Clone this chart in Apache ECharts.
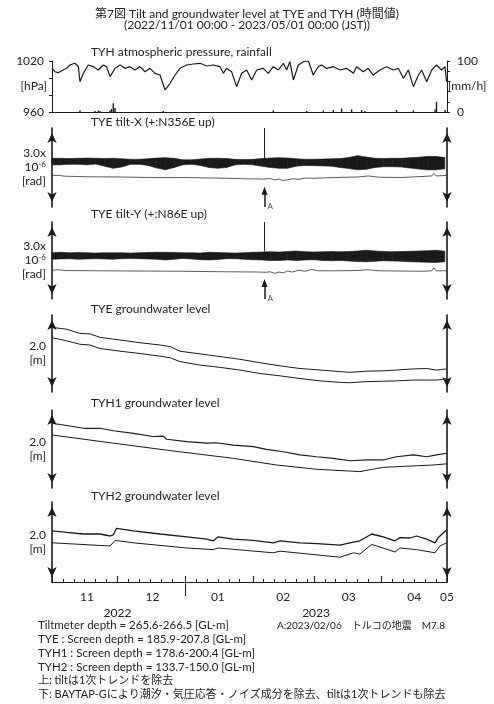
<!DOCTYPE html>
<html><head><meta charset="utf-8">
<script src="https://cdn.jsdelivr.net/npm/echarts@6/dist/echarts.min.js"></script>
<style>html,body{margin:0;padding:0;background:#fff}#c{width:494px;height:704px}</style>
</head><body><div id="c"></div>
<script>
// ---------- time axis (days since 2022/11/01 00:00 JST) ----------
const monthStart = [0, 30, 61, 92, 120, 151, 181];
const monthLabel = ['11', '12', '01', '02', '03', '04', '05'];
const monthLabelDay = [16, 46, 76, 106, 136, 166, 181];
const yearLabel = ['2022', '2023'];
const yearLabelDay = [30, 121];
const yearBoundaryDay = 61;
const eqDay = 97.4; // A: 2023/02/06

// ---------- TYH atmospheric pressure [hPa] ----------
const pressureDay = [0,1.4,2.9,4.4,6.7,8.2,10.5,12.1,12.8,14.4,16.6,19.0,21.2,23.5,25.0,26.6,28.9,31.2,33.4,35.7,38.0,40.3,42.6,44.9,47.2,49.5,51.8,54.1,56.4,58.6,61.7,64.8,67.8,70.9,73.9,77.0,78.5,80.0,82.3,84.6,86.9,89.2,91.5,93.8,96.8,99.1,101.4,103.7,106.0,107.5,109.0,110.6,112.9,115.2,117.5,119.7,122.0,123.5,125.8,128.9,132.0,135.0,138.1,139.6,142.6,144.9,147.2,150.3,153.3,156.4,158.7,161.0,163.3,165.6,167.9,169.4,171.7,174.0,176.2,178.5,180.1,180.8];
const pressureHpa = [1011.4,1007.4,1006.3,1008.6,1011.4,1015.3,1017.3,1013.3,995.7,1005.5,
1015.3,1013.3,1009.4,1015.3,1013.3,1001.6,1011.4,1015.3,1011.4,1013.3,
1009.4,1013.3,1007.4,1011.4,1005.5,1003.5,985.9,993.8,1003.5,1011.4,
1015.3,1016.5,1017.3,1014.1,1015.3,1013.3,1005.5,1011.4,1007.4,989.8,
1005.5,1009.4,997.7,1009.4,1011.4,1005.5,1013.3,1009.4,1017.3,1009.4,
1019.2,997.7,1015.3,1019.2,1020,1003.5,1013.3,1015.3,1011.4,1013.3,
1009.4,1011.4,1005.5,1013.3,1007.4,1011.4,1003.5,1009.4,1013.3,1009.4,
1011.4,999.6,1009.4,989.8,1003.5,1009.4,995.7,1009.4,1015.3,1009.4,
1013.3,995.7];

// ---------- TYH rainfall [mm/h] ----------
const rainDay = [12.8,19.7,21.2,22.0,26.6,27.3,28.1,28.9,51.0,101.4,116.7,124.3,128.9,132.7,137.3,141.9,143.4,157.9,165.6,175.5,176.2,180.1];
const rainMm  = [3,2,3,2,3,6,17,8,2,3,2,3,4,7,5,4,2,4,3,5,20,4];

// ---------- TYE tilt (x1e-6 rad, relative) ----------
const tiltDay = [0,4,8,12,16,20,24,28,32,36,40,44,48,52,56,60,64,68,72,76,80,84,88,92,96,100,104,108,112,116,120,124,128,132,136,140,144,148,152,156,160,164,168,172,176,180];
// raw (tidal band) envelope
const tiltXRawHigh = [1.85,1.85,1.84,1.85,1.86,1.85,1.84,1.85,1.83,1.81,1.81,1.83,1.86,1.87,1.85,1.79,1.79,1.82,1.85,1.85,1.84,1.81,1.80,1.81,1.84,1.86,1.87,1.86,1.83,1.81,1.81,1.82,1.83,1.84,1.88,1.95,1.90,1.85,1.84,1.85,1.85,1.87,1.89,1.92,1.92,1.88];
const tiltXRawLow  = [1.60,1.60,1.62,1.62,1.60,1.63,1.55,1.47,1.52,1.62,1.62,1.58,1.48,1.41,1.50,1.60,1.62,1.58,1.50,1.47,1.50,1.60,1.62,1.60,1.55,1.50,1.47,1.47,1.55,1.58,1.57,1.56,1.55,1.50,1.46,1.41,1.43,1.50,1.53,1.53,1.52,1.48,1.44,1.41,1.41,1.45];
const tiltYRawHigh = [1.80,1.82,1.80,1.81,1.80,1.79,1.80,1.80,1.80,1.79,1.80,1.81,1.82,1.82,1.81,1.80,1.80,1.79,1.82,1.81,1.80,1.79,1.80,1.82,1.83,1.84,1.83,1.85,1.87,1.84,1.83,1.84,1.85,1.84,1.85,1.87,1.90,1.87,1.85,1.84,1.85,1.86,1.87,1.88,1.90,1.86];
const tiltYRawLow  = [1.55,1.56,1.57,1.55,1.56,1.57,1.56,1.55,1.57,1.58,1.57,1.56,1.55,1.52,1.55,1.58,1.56,1.53,1.52,1.54,1.57,1.57,1.55,1.53,1.52,1.50,1.50,1.52,1.50,1.52,1.53,1.50,1.49,1.50,1.48,1.46,1.45,1.47,1.49,1.48,1.47,1.45,1.44,1.43,1.42,1.45];
const tiltXSpike = [1.85, 3.0];
const tiltYSpike = [1.85, 3.0];
// corrected (BAYTAP-G) lines
const tiltXCorDay = [0,3,6,15,30,45,60,75,90,97,100,102,104,106,108,110,113,116,120,130,140,145,150,160,170,174,175,176,181];
const tiltXCor    = [1.19,1.20,1.17,1.15,1.14,1.12,1.12,1.10,1.07,1.06,1.08,1.03,1.06,1.00,1.04,1.07,1.05,1.10,1.09,1.12,1.14,1.18,1.13,1.12,1.16,1.18,1.27,1.18,1.20];
const tiltYCorDay = [0,3,6,20,40,60,80,95,98,100,102,104,106,108,110,113,116,119,122,130,140,145,150,160,170,174,175,176,181];
const tiltYCor    = [1.12,1.14,1.11,1.10,1.09,1.08,1.06,1.05,1.04,1.06,1.00,1.05,1.02,1.09,1.05,1.12,1.08,1.15,1.10,1.10,1.11,1.14,1.10,1.09,1.08,1.10,1.22,1.10,1.10];

// ---------- groundwater level [m, relative] ----------
const tyeRawDay = [0,6.7,12.8,17.4,22.0,31.2,40.3,49.5,54.1,58.6,67.8,77.0,86.1,95.3,104.5,113.6,122.8,132.0,136.5,144.2,151.8,157.9,165.6,171.7,176.2,180.8];
const tyeRaw    = [1.68,1.63,1.52,1.51,1.42,1.35,1.28,1.22,1.18,1.06,0.99,0.92,0.85,0.76,0.68,0.61,0.57,0.53,0.51,0.54,0.55,0.57,0.60,0.61,0.57,0.60];
const tyeCor    = [1.41,1.33,1.24,1.22,1.13,1.06,1.00,0.93,0.89,0.79,0.70,0.64,0.57,0.48,0.42,0.35,0.29,0.25,0.24,0.27,0.28,0.29,0.31,0.31,0.31,0.34];

const tyh1RawDay = [0,8.2,14.4,22.0,28.1,37.3,46.4,51.0,52.5,61.7,70.9,75.4,83.1,92.2,98.3,106.0,113.6,121.3,128.9,136.5,144.2,151.8,157.9,165.6,171.7,176.2,180.8];
const tyh1Raw    = [1.66,1.59,1.53,1.53,1.47,1.40,1.32,1.33,1.25,1.19,1.15,1.16,1.10,1.06,0.99,0.93,0.85,0.80,0.76,0.70,0.72,0.72,0.80,0.85,0.80,0.85,0.89];
const tyh1CorDay = [0,28.1,52.5,83.1,102.9,121.3,141.1,151.8,174.7,180.8];
const tyh1Cor    = [1.36,1.15,0.97,0.76,0.59,0.48,0.42,0.53,0.59,0.62];

const tyh2RawDay = [0,6.7,14.4,22.0,26.6,28.1,29.6,37.3,49.5,61.7,70.9,73.9,76.2,83.1,92.2,101.4,104.5,113.6,121.3,132.0,136.5,141.1,146.5,151.8,157.2,159.4,164.0,167.1,171.7,175.5,177.0,180.8];
const tyh2Raw    = [1.28,1.24,1.20,1.20,1.15,1.18,1.34,1.28,1.20,1.13,1.07,1.03,1.13,1.07,1.04,0.98,1.03,0.98,0.96,0.92,0.98,1.03,1.20,1.13,1.03,1.11,1.10,1.15,1.07,0.98,1.11,1.30];
const tyh2CorDay = [0,26.6,28.9,37.3,61.7,73.9,76.2,101.4,104.5,132.0,138.1,141.1,146.5,157.2,159.4,167.1,175.5,177.8,180.8];
const tyh2Cor    = [0.98,0.90,1.04,0.98,0.85,0.81,0.85,0.73,0.77,0.62,0.73,0.70,0.94,0.75,0.85,0.81,0.73,0.90,0.98];

// ---------- texts ----------
const titleLines = ['第7図 Tilt and groundwater level at TYE and TYH (時間値)', '(2022/11/01 00:00 - 2023/05/01 00:00 (JST))'];
const panelTitles = ['TYH atmospheric pressure, rainfall', 'TYE tilt-X (+:N356E up)', 'TYE tilt-Y (+:N86E up)', 'TYE groundwater level', 'TYH1 groundwater level', 'TYH2 groundwater level'];
const footLines = ['Tiltmeter depth = 265.6-266.5 [GL-m]', 'TYE : Screen depth = 185.9-207.8 [GL-m]', 'TYH1 : Screen depth = 178.6-200.4 [GL-m]', 'TYH2 : Screen depth = 133.7-150.0 [GL-m]', '上: tiltは1次トレンドを除去', '下: BAYTAP-Gにより潮汐・気圧応答・ノイズ成分を除去、tiltは1次トレンドも除去'];
const eqNote = 'A:2023/02/06　トルコの地震　M7.8';

// ================= build =================
const FONT = 'Lato, "Noto Sans CJK JP", sans-serif';
const INK = '#1a1a1a';
const zip = (xs, ys) => xs.map((x, i) => [x, ys[i]]);

const grids = [
  { top: 61, height: 51 },
  { top: 128, height: 79 },
  { top: 222, height: 77 },
  { top: 315, height: 77 },
  { top: 410, height: 78 },
  { top: 502, height: 80 }
].map(g => Object.assign({ left: 52, right: 47 }, g));

const xAxes = grids.map((g, i) => ({
  type: 'value', gridIndex: i, min: 0, max: 181,
  axisLine: { show: i === 0, onZero: false, lineStyle: { color: INK, width: 1 } },
  axisTick: { show: false }, axisLabel: { show: false }, splitLine: { show: false }
}));

// bottom time axis: categories = day index
const nDays = monthStart[monthStart.length - 1] + 1;
const cats = Array.from({ length: nDays }, (_, i) => String(i));
const minorTickSet = new Set();
monthStart.forEach((m, k) => {
  minorTickSet.add(m);
  if (k < monthStart.length - 1) for (let d = 5; d <= 25; d += 5) minorTickSet.add(m + d);
});
const monthTickSet = new Set(monthStart);
const monthLabelMap = {}; monthLabelDay.forEach((d, k) => monthLabelMap[d] = monthLabel[k]);
const yearLabelMap = {}; yearLabelDay.forEach((d, k) => yearLabelMap[d] = yearLabel[k]);

const catBase = {
  type: 'category', gridIndex: 5, data: cats, boundaryGap: false, position: 'bottom',
  splitLine: { show: false }
};
xAxes.push(Object.assign({}, catBase, {
  axisLine: { show: true, onZero: false, lineStyle: { color: INK, width: 1 } },
  axisTick: { show: true, inside: true, length: 3, interval: (i) => minorTickSet.has(i), lineStyle: { color: INK } },
  axisLabel: { show: true, interval: (i) => i in monthLabelMap, formatter: (v, i) => monthLabelMap[i] || '', fontSize: 12, color: '#222', fontFamily: FONT, margin: 9 }
}));
xAxes.push(Object.assign({}, catBase, {
  axisLine: { show: false, onZero: false },
  axisTick: { show: true, inside: true, length: 6, interval: (i) => monthTickSet.has(i), lineStyle: { color: INK } },
  axisLabel: { show: false }
}));
xAxes.push(Object.assign({}, catBase, {
  axisLine: { show: false, onZero: false },
  axisTick: { show: true, inside: false, length: 14, interval: (i) => i === yearBoundaryDay, lineStyle: { color: INK } },
  axisLabel: { show: true, interval: (i) => i in yearLabelMap, formatter: (v, i) => yearLabelMap[i] || '', fontSize: 12, color: '#222', fontFamily: FONT, margin: 25 }
}));

const nameStyleL = { align: 'right', verticalAlign: 'middle', fontSize: 12, color: '#222', fontFamily: FONT, lineHeight: 14,
  rich: { s: { fontSize: 8, verticalAlign: 'top', lineHeight: 14, padding: [0, 0, 5, 0], fontFamily: FONT, color: '#222' } } };

function arrowAxis(gi, pos, max, name) {
  return {
    type: 'value', gridIndex: gi, position: pos, min: 0, max: max,
    axisLine: { show: true, onZero: false, symbol: ['arrow', 'arrow'], symbolSize: [7, 10], symbolOffset: [5, -5], lineStyle: { color: INK, width: 1.6 } },
    axisTick: { show: false }, axisLabel: { show: false }, splitLine: { show: false },
    name: name || '', nameLocation: 'middle', nameRotate: 0, nameGap: 6, nameMoveOverlap: false, nameTextStyle: nameStyleL
  };
}

const yAxes = [
  {
    type: 'value', gridIndex: 0, position: 'left', min: 960, max: 1020, interval: 20,
    axisLine: { show: true, lineStyle: { color: INK, width: 1 } },
    axisTick: { show: true, length: 3, lineStyle: { color: INK } },
    axisLabel: { fontSize: 12, color: '#222', fontFamily: FONT, margin: 8, formatter: v => (v === 960 || v === 1020) ? String(v) : '' },
    splitLine: { show: false },
    name: '[hPa]', nameLocation: 'middle', nameRotate: 0, nameGap: 5, nameMoveOverlap: false, nameTextStyle: nameStyleL
  },
  {
    type: 'value', gridIndex: 0, position: 'right', min: 0, max: 100, interval: 20,
    axisLine: { show: true, lineStyle: { color: INK, width: 1 } },
    axisTick: { show: true, length: 3, lineStyle: { color: INK } },
    axisLabel: { fontSize: 12, color: '#222', fontFamily: FONT, margin: 10, formatter: v => (v === 0 || v === 100) ? String(v) : '' },
    splitLine: { show: false },
    name: '[mm/h]', nameLocation: 'middle', nameRotate: 0, nameGap: 1, nameMoveOverlap: false,
    nameTextStyle: { align: 'left', verticalAlign: 'middle', fontSize: 12, color: '#222', fontFamily: FONT }
  },
  arrowAxis(1, 'left', 3.0, '3.0x\n10{s|-6}\n[rad]'), arrowAxis(1, 'right', 3.0),
  arrowAxis(2, 'left', 3.0, '3.0x\n10{s|-6}\n[rad]'), arrowAxis(2, 'right', 3.0),
  arrowAxis(3, 'left', 2.0, '2.0\n[m]'), arrowAxis(3, 'right', 2.0),
  arrowAxis(4, 'left', 2.0, '2.0\n[m]'), arrowAxis(4, 'right', 2.0),
  arrowAxis(5, 'left', 2.0, '2.0\n[m]'), arrowAxis(5, 'right', 2.0)
];

function line(gi, data, width, color, extra) {
  return Object.assign({
    type: 'line', xAxisIndex: gi, yAxisIndex: gi * 2, data: data, symbol: 'none', silent: true,
    lineStyle: { color: color || INK, width: width }, animation: false, z: 3
  }, extra || {});
}
// tidal band drawn as polygons between the read-off envelopes (through the axis scales)
function band(gi, days, low, high) {
  return {
    type: 'custom', xAxisIndex: gi, yAxisIndex: gi * 2, silent: true, animation: false, z: 2,
    data: days.map((d, i) => [d, low[i], high[i]]),
    encode: { x: 0, y: [1, 2] },
    renderItem: (params, api) => {
      const i = params.dataIndex;
      if (i >= days.length - 1) return null;
      const pts = [
        api.coord([days[i], low[i]]), api.coord([days[i], high[i]]),
        api.coord([days[i + 1], high[i + 1]]), api.coord([days[i + 1], low[i + 1]])
      ];
      return { type: 'polygon', shape: { points: pts }, style: { fill: INK, stroke: INK, lineWidth: 0.6 } };
    }
  };
}
function eqArrow(gi) {
  return {
    type: 'scatter', xAxisIndex: gi, yAxisIndex: gi * 2, silent: true, animation: false,
    data: [[eqDay, 0.12]], symbolSize: 0,
    label: { show: true, formatter: 'A', position: 'right', distance: 3, fontSize: 8, color: '#222', fontFamily: FONT, offset: [0, 3] },
    markLine: {
      silent: true, animation: false, symbol: ['none', 'triangle'], symbolSize: [6, 8],
      lineStyle: { color: INK, width: 1.5, type: 'solid' }, label: { show: false },
      data: [[{ coord: [eqDay, 0.0] }, { coord: [eqDay, 0.62] }]]
    }
  };
}

const series = [
  line(0, zip(pressureDay, pressureHpa), 1.2, INK),
  { type: 'bar', xAxisIndex: 0, yAxisIndex: 1, data: zip(rainDay, rainMm), barWidth: 1.4, itemStyle: { color: INK }, silent: true, animation: false },
  band(1, tiltDay, tiltXRawLow, tiltXRawHigh),
  line(1, [[eqDay, tiltXSpike[0]], [eqDay, tiltXSpike[1]]], 1, INK),
  line(1, zip(tiltXCorDay, tiltXCor), 0.8, '#333'),
  eqArrow(1),
  band(2, tiltDay, tiltYRawLow, tiltYRawHigh),
  line(2, [[eqDay, tiltYSpike[0]], [eqDay, tiltYSpike[1]]], 1, INK),
  line(2, zip(tiltYCorDay, tiltYCor), 0.8, '#333'),
  eqArrow(2),
  line(3, zip(tyeRawDay, tyeRaw), 1, INK),
  line(3, zip(tyeRawDay, tyeCor), 1, INK),
  line(4, zip(tyh1RawDay, tyh1Raw), 1.1, INK),
  line(4, zip(tyh1CorDay, tyh1Cor), 1, INK),
  line(5, zip(tyh2RawDay, tyh2Raw), 1.3, INK),
  line(5, zip(tyh2CorDay, tyh2Cor), 1, INK)
];

const panelTitleTops = [46, 116, 208, 303, 397, 490];
const titles = [{
  text: titleLines.join('\n'), left: 'center', top: 8, padding: 0,
  textStyle: { fontSize: 12, fontWeight: 'normal', color: '#222', fontFamily: FONT, lineHeight: 11.5 }
}].concat(panelTitles.map((t, i) => ({
  text: t, left: 91, top: panelTitleTops[i], padding: 0,
  textStyle: { fontSize: 12, fontWeight: 'normal', color: '#222', fontFamily: FONT }
})));

const footTop = 620, footStep = 13.7;
const graphic = footLines.map((t, k) => ({
  type: 'text', left: 38, top: footTop + k * footStep, silent: true,
  style: { text: t, font: (k < 4 ? '11.5px ' : '11px ') + FONT, fill: '#222' }
})).concat([{ type: 'text', left: 277, top: 621, silent: true,
  style: { text: eqNote, font: '10px ' + FONT, fill: '#222' } }]);

const chart = echarts.init(document.getElementById('c'), null, { renderer: 'canvas' });
chart.setOption({
  animation: false,
  backgroundColor: '#fff',
  title: titles,
  grid: grids,
  xAxis: xAxes,
  yAxis: yAxes,
  series: series,
  graphic: graphic
});
</script></body></html>
